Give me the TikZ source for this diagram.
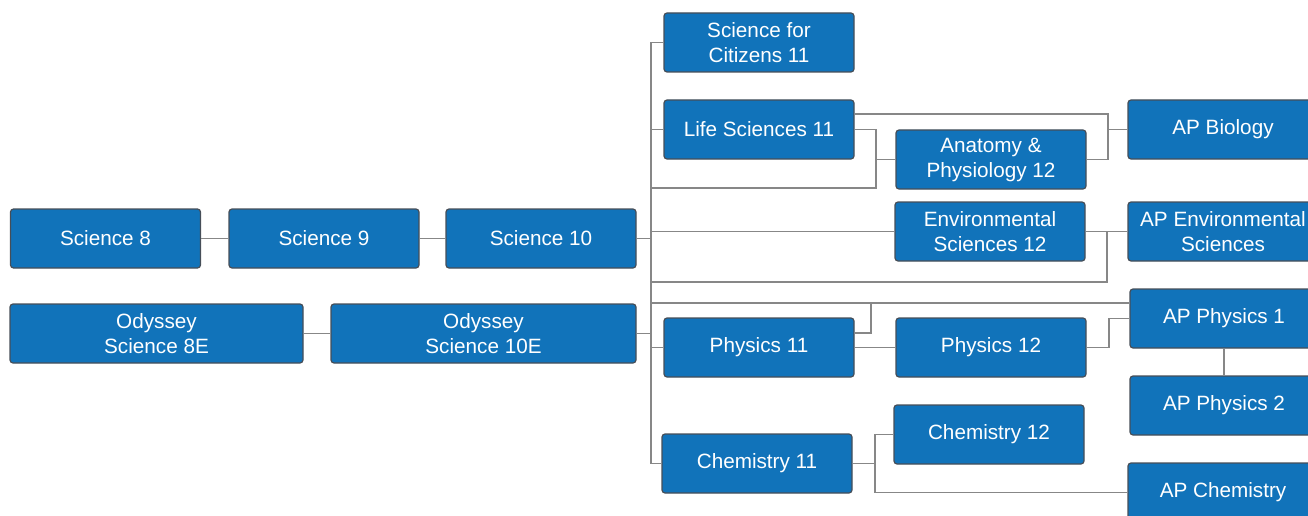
\documentclass[tikz,border=0pt]{standalone}
\usepackage{fontspec}
\setmainfont{Liberation Sans}
\definecolor{boxblue}{RGB}{17,115,186}
\definecolor{boxedge}{RGB}{70,78,88}
\definecolor{linegray}{RGB}{135,135,135}
\tikzset{
  course/.style={draw=boxedge, fill=boxblue, rounded corners=3pt, line width=1.2pt,
    minimum width=190pt, minimum height=59pt, inner sep=0pt, text=white, align=center,
    font=\fontsize{20.7}{25}\selectfont},
  conn/.style={draw=linegray, line width=1.9pt}
}
\begin{document}
\begin{tikzpicture}[x=1pt,y=-1pt]
\useasboundingbox (0,0) rectangle (1308,516);
\clip (0,0) rectangle (1308,516);
% nodes
\node[course] (s8) at (105.5,238.5) {Science 8};
\node[course] (s9) at (324,238.5) {Science 9};
\node[course] (s10) at (541,238.5) {Science 10};
\node[course, minimum width=293pt] (o8) at (156.5,333.5) {Odyssey\\Science 8E};
\node[course, minimum width=305pt] (o10) at (483.5,333.5) {Odyssey\\Science 10E};
\node[course] (sfc) at (759,42.5) {Science for\\Citizens 11};
\node[course] (ls) at (759,129.5) {Life Sciences 11};
\node[course] (ap) at (991,159.5) {Anatomy \&\\Physiology 12};
\node[course] (apbio) at (1223,129.5) {AP Biology};
\node[course] (es) at (990,231.5) {Environmental\\Sciences 12};
\node[course] (apes) at (1223,231.5) {AP Environmental\\Sciences};
\node[course] (p11) at (759,347.5) {Physics 11};
\node[course] (p12) at (991,347.5) {Physics 12};
\node[course, minimum width=188pt] (app1) at (1224,318.5) {AP Physics 1};
\node[course, minimum width=188pt] (app2) at (1224,405.5) {AP Physics 2};
\node[course] (c12) at (989,434.5) {Chemistry 12};
\node[course] (c11) at (757,463.5) {Chemistry 11};
\node[course] (apc) at (1223,492.5) {AP Chemistry};
% junction coordinates
\coordinate (bus) at (651,0);
\coordinate (ja) at (876,188);
\coordinate (kb) at (1108,114);
\coordinate (ke) at (1107,282);
\coordinate (kp) at (871,303);
\coordinate (kq) at (871,333);
\coordinate (kr) at (1109,0);
\coordinate (kc) at (875,0);
% chains
\draw[conn] (s8.east) -- (s9.west);
\draw[conn] (s9.east) -- (s10.west);
\draw[conn] (o8.east) -- (o10.west);
% bus
\draw[conn] (sfc.west) -- (sfc.west -| bus) -- (c11.west -| bus) -- (c11.west);
\draw[conn] (ls.west) -- (ls.west -| bus);
\draw[conn] (s10.east) -- (s10.east -| bus);
\draw[conn] (o10.east) -- (o10.east -| bus);
\draw[conn] (es.west) -- (es.west -| bus);
\draw[conn] (p11.west) -- (p11.west -| bus);
% life sciences
\draw[conn] (ls.east) -- (ls.east -| ja) -- (ja) -- (ja -| bus);
\draw[conn] (ap.west) -- (ap.west -| ja);
\draw[conn] (kb -| ls.east) -- (kb) -- (kb |- ap.east) -- (ap.east);
\draw[conn] (kb |- apbio.west) -- (apbio.west);
% environmental
\draw[conn] (es.east) -- (apes.west);
\draw[conn] (ke -| bus) -- (ke) -- (ke |- apes.west);
% physics
\draw[conn] (kp -| bus) -- (kp -| app1.west);
\draw[conn] (kq -| p11.east) -- (kq) -- (kp);
\draw[conn] (p11.east) -- (p12.west);
\draw[conn] (p12.east) -- (p12.east -| kr) -- (kr |- app1.west) -- (app1.west);
\draw[conn] (app1.south) -- (app2.north);
% chemistry
\draw[conn] (c11.east) -- (c11.east -| kc);
\draw[conn] (c12.west) -- (c12.west -| kc) -- (apc.west -| kc) -- (apc.west);
\end{tikzpicture}
\end{document}
